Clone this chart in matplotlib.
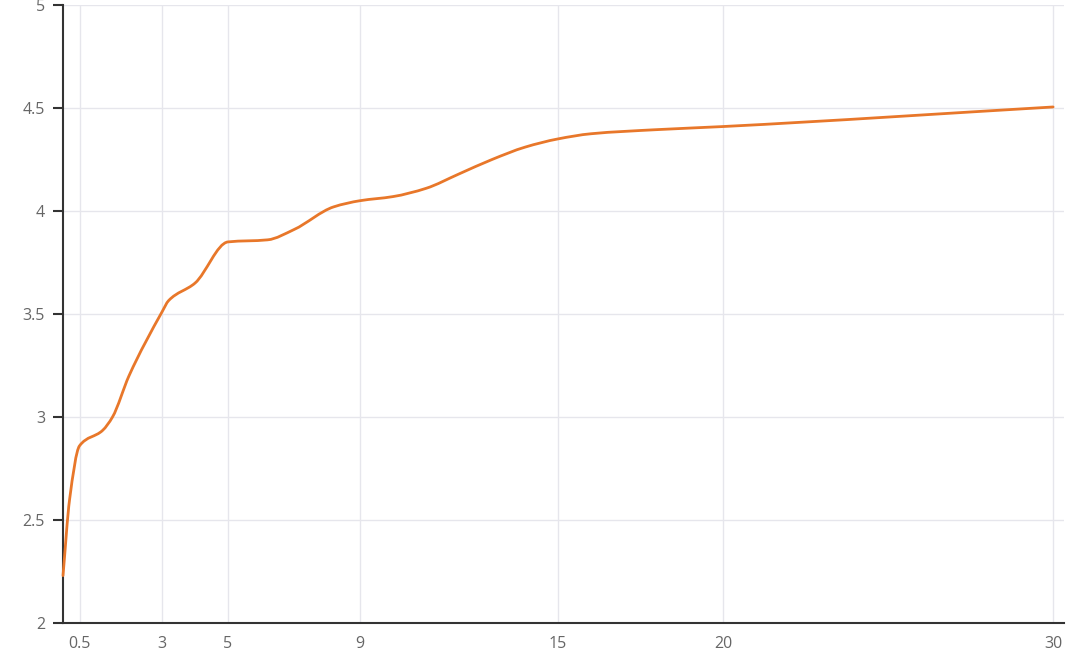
import numpy as np
import matplotlib
matplotlib.use("Agg")
import matplotlib.pyplot as plt
from matplotlib.path import Path
from matplotlib.patches import PathPatch

# Data
x_vals = [0, 0.2, 0.5, 1.2, 1.5, 2, 3, 3.2, 4, 5, 6.2, 7, 8.2, 9, 10, 11, 12, 13, 14, 15,
          16, 18, 20, 30]
y_vals = [2.23, 2.6, 2.86, 2.935, 3.0, 3.2, 3.51, 3.565, 3.65, 3.85, 3.86, 3.91, 4.02,
          4.05, 4.07, 4.11, 4.18, 4.25, 4.31, 4.35, 4.375, 4.395, 4.41, 4.505]
x_ticks = [0.5, 3, 5, 9, 15, 20, 30]
x_tick_labels = ["0.5", "3", "5", "9", "15", "20", "30"]
y_ticks = [2, 2.5, 3, 3.5, 4, 4.5, 5]
y_tick_labels = ["2", "2.5", "3", "3.5", "4", "4.5", "5"]

fig = plt.figure(figsize=(10.8, 6.63), dpi=100)
ax = fig.add_axes([63 / 1080, 1 - 623 / 663, (1064 - 63) / 1080, (623 - 5) / 663])
ax.set_xlim(0, 30.33)
ax.set_ylim(2, 5)


def monotone_path(xs, ys):
    # Fritsch-Carlson monotone cubic, expressed as Bezier segments in data space
    xs = np.asarray(xs, float)
    ys = np.asarray(ys, float)
    n = len(xs)
    h = np.diff(xs)
    d = np.diff(ys) / h
    m = np.zeros(n)
    m[0] = d[0]
    m[-1] = d[-1]
    for i in range(1, n - 1):
        if d[i - 1] * d[i] <= 0:
            m[i] = 0
        else:
            w1 = 2 * h[i] + h[i - 1]
            w2 = h[i] + 2 * h[i - 1]
            m[i] = (w1 + w2) / (w1 / d[i - 1] + w2 / d[i])
    verts = [(xs[0], ys[0])]
    codes = [Path.MOVETO]
    for i in range(n - 1):
        verts.append((xs[i] + h[i] / 3, ys[i] + m[i] * h[i] / 3))
        verts.append((xs[i + 1] - h[i] / 3, ys[i + 1] - m[i + 1] * h[i] / 3))
        verts.append((xs[i + 1], ys[i + 1]))
        codes += [Path.CURVE4] * 3
    return Path(verts, codes)


for spine in ["top", "right"]:
    ax.spines[spine].set_visible(False)
for spine in ["left", "bottom"]:
    ax.spines[spine].set_color("#333333")
    ax.spines[spine].set_linewidth(1.5)

ax.set_xticks(x_ticks)
ax.set_xticklabels(x_tick_labels)
ax.set_yticks(y_ticks)
ax.set_yticklabels(y_tick_labels)
ax.tick_params(axis="x", length=0, pad=9, labelsize=11.5, labelcolor="#666666")
ax.tick_params(axis="y", length=7, width=1.5, color="#333333", pad=6, labelsize=11.5,
               labelcolor="#666666")
ax.grid(True, color="#e6e6ec", linewidth=1)
ax.set_axisbelow(True)
for lab in ax.get_xticklabels() + ax.get_yticklabels():
    lab.set_fontfamily(["Open Sans", "DejaVu Sans"])

path = monotone_path(x_vals, y_vals)
patch = PathPatch(path, facecolor="none", edgecolor="#e8772a", linewidth=2.0,
                  capstyle="round", joinstyle="round", zorder=3, clip_on=False)
ax.add_patch(patch)

fig.savefig("out.png", dpi=100, facecolor="white")
